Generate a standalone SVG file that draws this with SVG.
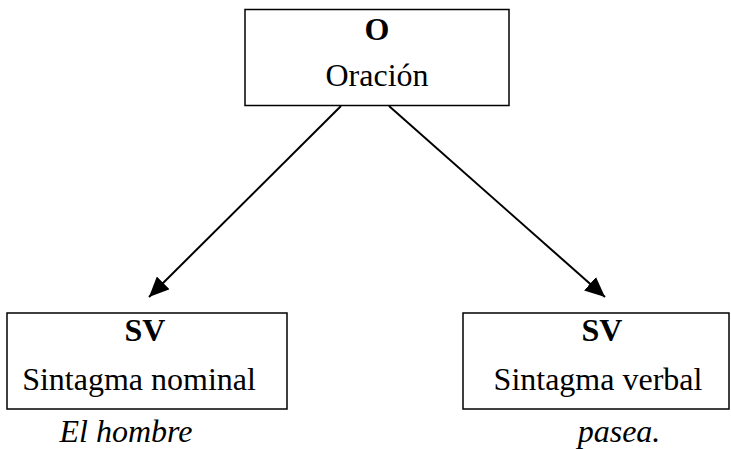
<svg xmlns="http://www.w3.org/2000/svg" width="731" height="449" viewBox="0 0 731 449">
<defs>
<style>
.box{fill:#fff;stroke:#000;stroke-width:1.5}
.t{font-family:"Liberation Serif","Times New Roman",serif;font-size:32px;fill:#000;text-anchor:middle}
.b{font-weight:bold}
.i{font-style:italic}
.c{stroke:#000;stroke-width:2;fill:none}
</style>
<marker id="ah" markerUnits="userSpaceOnUse" markerWidth="22" markerHeight="18" refX="20" refY="9" orient="auto">
<path d="M0,0 L20,9 L0,18 Z" fill="#000"/>
</marker>
</defs>
<rect width="731" height="449" fill="#fff"/>
<g id="connectors">
<line class="c" x1="341" y1="106" x2="149" y2="297" marker-end="url(#ah)"/>
<line class="c" x1="389" y1="106" x2="605" y2="297" marker-end="url(#ah)"/>
</g>
<g id="node-oracion">
<rect class="box" x="245" y="9.5" width="264" height="96"/>
<text class="t b" x="377" y="40">O</text>
<text class="t" x="377" y="86">Oración</text>
</g>
<g id="node-sn">
<rect class="box" x="7" y="313" width="280" height="96"/>
<text class="t b" x="145" y="341">SV</text>
<text class="t" x="139" y="390">Sintagma nominal</text>
</g>
<g id="node-sv">
<rect class="box" x="463" y="313" width="266" height="96"/>
<text class="t b" x="602" y="341">SV</text>
<text class="t" x="598" y="390">Sintagma verbal</text>
</g>
<g id="words">
<text class="t i" x="126" y="442">El hombre</text>
<text class="t i" x="619" y="442">pasea.</text>
</g>
</svg>
